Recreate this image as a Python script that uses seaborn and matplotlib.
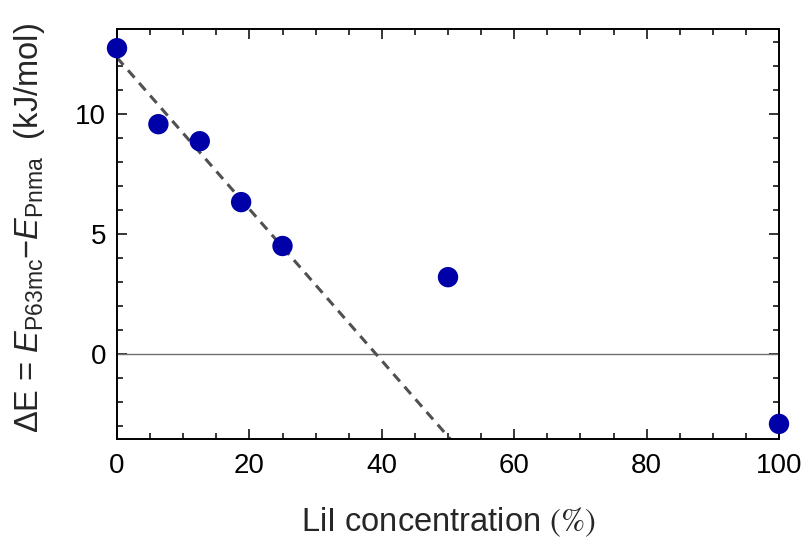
import numpy as np
import pandas as pd
import matplotlib
matplotlib.use("Agg")
import matplotlib.pyplot as plt
from matplotlib.ticker import MultipleLocator
import seaborn as sns

# Data
concentration = [0, 6.25, 12.5, 18.75, 25, 50, 100]
delta_e = [12.75, 9.58, 8.87, 6.33, 4.50, 3.20, -2.92]
n_fit = 5  # linear fit over the low-concentration points
x_ticks = [0, 20, 40, 60, 80, 100]
y_ticks = [0, 5, 10]

sns.set_theme(style="white")
plt.rcParams['font.family'] = ['Liberation Sans', 'DejaVu Sans']
plt.rcParams['mathtext.fontset'] = 'custom'
plt.rcParams['mathtext.rm'] = 'Liberation Sans'
plt.rcParams['mathtext.it'] = 'Liberation Sans:italic'
plt.rcParams['mathtext.sf'] = 'Liberation Sans'

df = pd.DataFrame({"x": concentration, "y": delta_e})

fig = plt.figure(figsize=(8.07, 5.43), dpi=100)
ax = fig.add_axes([0.145, 0.1915, 0.8203, 0.7551])

ax.set_xlim(0, 100)
ax.set_ylim(-3.55, 13.55)

# zero line
ax.axhline(0, color="#6e6e6e", lw=1.0, zorder=1)

# linear fit of the first points
slope, intercept = np.polyfit(concentration[:n_fit], delta_e[:n_fit], 1)
xf = np.array([0, 100])
ax.plot(xf, intercept + slope * xf, ls=(0, (3.2, 2.3)), color="#505050", lw=2.2, zorder=2)

sns.scatterplot(data=df, x="x", y="y", ax=ax, color="#0000a8", s=215,
                edgecolor="none", linewidth=0, zorder=3, clip_on=False)

ax.set_xticks(x_ticks)
ax.set_yticks(y_ticks)
ax.xaxis.set_minor_locator(MultipleLocator(5))
ax.yaxis.set_minor_locator(MultipleLocator(1))
ax.tick_params(which="both", direction="in", top=True, right=True,
               bottom=True, left=True, colors="black", labelsize=20,
               width=1.1)
ax.tick_params(which="major", length=7)
ax.tick_params(which="minor", length=4)
ax.tick_params(axis="x", which="major", pad=10)
ax.tick_params(axis="y", which="major", pad=8)

for sp in ax.spines.values():
    sp.set_color("black")
    sp.set_linewidth(1.4)

ax.set_xlabel(r"LiI concentration $(\%)$", fontsize=23.5, labelpad=19,
              math_fontfamily="stix")
ax.set_ylabel(r"$\Delta$E = $E_{\mathrm{P63mc}}$$-$$E_{\mathrm{Pnma}}$  (kJ/mol)",
              fontsize=23.5)
ax.yaxis.set_label_coords(-0.106, 0.515)

fig.savefig("out.png", dpi=100)
